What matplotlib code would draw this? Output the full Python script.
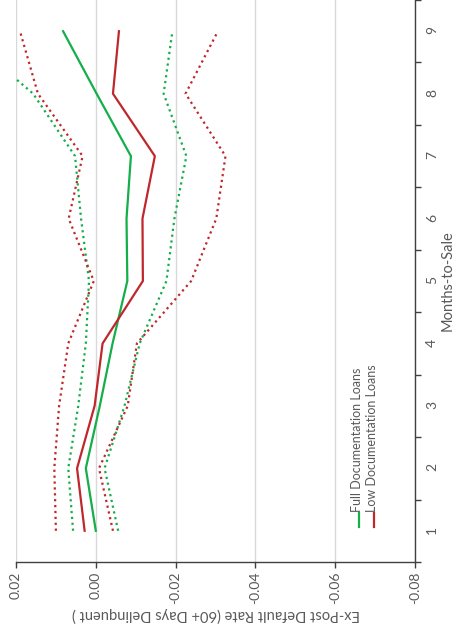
import numpy as np
import matplotlib
matplotlib.use("Agg")
import matplotlib.pyplot as plt
from matplotlib.ticker import FixedLocator, FormatStrFormatter

plt.rcParams['font.family'] = ['Lato', 'DejaVu Sans']

months = [1, 2, 3, 4, 5, 6, 7, 8, 9]

full_mean = [0.0000, 0.0025, -0.0010, -0.0042, -0.0079, -0.0077, -0.0088, -0.0002, 0.0082]
full_upper = [0.0057, 0.0069, 0.0044, 0.0025, 0.0017, 0.0037, 0.0052, 0.0157, 0.0340]
full_lower = [-0.0056, -0.0022, -0.0072, -0.0110, -0.0177, -0.0197, -0.0227, -0.0170, -0.0192]

low_mean = [0.0028, 0.0047, 0.0003, -0.0017, -0.0118, -0.0117, -0.0148, -0.0043, -0.0058]
low_upper = [0.0100, 0.0104, 0.0092, 0.0069, 0.0005, 0.0068, 0.0033, 0.0145, 0.0190]
low_lower = [-0.0043, -0.0008, -0.0080, -0.0103, -0.0239, -0.0302, -0.0325, -0.0225, -0.0306]

value_ticks = [0.02, 0.00, -0.02, -0.04, -0.06, -0.08]

green = '#14ae4b'
red = '#c0272d'
axis_grey = '#595959'

fig = plt.figure(figsize=(4.62, 6.32), dpi=100)
ax = fig.add_axes([16 / 462, 70 / 632, 399 / 462, 562 / 632])

# chart is drawn turned on its side: months run up, values run right-to-left
ax.plot(full_mean, months, color=green, lw=1.6)
ax.plot(full_upper, months, color=green, lw=1.6, ls=':')
ax.plot(full_lower, months, color=green, lw=1.6, ls=':')
ax.plot(low_mean, months, color=red, lw=1.6)
ax.plot(low_upper, months, color=red, lw=1.6, ls=':')
ax.plot(low_lower, months, color=red, lw=1.6, ls=':')

ax.set_xlim(0.02, -0.08)
ax.set_ylim(0.5, 9.5)

ax.xaxis.set_major_locator(FixedLocator(value_ticks))
ax.xaxis.set_major_formatter(FormatStrFormatter('%.2f'))
ax.grid(axis='x', color='#d9d9d9', lw=1)
ax.set_axisbelow(True)

ax.yaxis.tick_right()
ax.yaxis.set_label_position('right')
ax.set_yticks(months)
ax.set_yticks(np.arange(0.5, 10, 1), minor=True)
ax.tick_params(axis='y', which='major', length=0, pad=8, labelsize=10,
               labelcolor=axis_grey, labelrotation=90)
ax.tick_params(axis='y', which='minor', length=4, width=1, color='#404040')
ax.tick_params(axis='x', which='major', length=4, width=1, color='#404040',
               labelsize=10, labelcolor=axis_grey, labelrotation=90, pad=3)

for s in ['left', 'top']:
    ax.spines[s].set_visible(False)
for s in ['bottom', 'right']:
    ax.spines[s].set_color('#404040')
    ax.spines[s].set_linewidth(1)

ax.set_xlabel('Ex-Post Default Rate (60+ Days Delinquent )', rotation=180,
              fontsize=10.5, color=axis_grey, labelpad=2)
ax.set_ylabel('Months-to-Sale', rotation=90, fontsize=10.5, color=axis_grey,
              labelpad=2)

# legend laid out sideways like the rest of the chart
for xa, col, lab in [(0.8596, green, 'Full Documentation Loans'),
                     (0.8972, red, 'Low Documentation Loans')]:
    ax.plot([xa, xa], [0.062, 0.087], color=col, lw=1.6,
            transform=ax.transAxes, clip_on=False)
    ax.text(xa - 0.004, 0.089, lab, rotation=90, ha='center', va='bottom',
            fontsize=9, color=axis_grey, transform=ax.transAxes)

fig.savefig('out.png', dpi=100)
